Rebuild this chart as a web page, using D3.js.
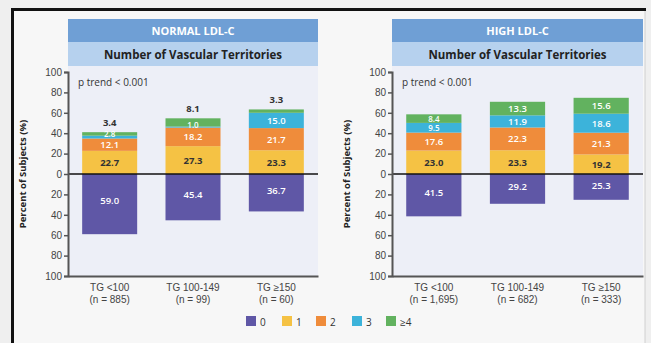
<!DOCTYPE html>
<html>
<head>
<meta charset="utf-8">
<script src="https://cdn.jsdelivr.net/npm/d3@7"></script>
<style>
  body { margin: 0; background: #efefef; }
  svg { display: block; font-family: "Open Sans", sans-serif; }
</style>
</head>
<body>
<div id="container"></div>
<script>
/* DATA */
const groups = ["0", "1", "2", "3", "≥4"]
const categories = ["TG <100", "TG 100-149", "TG ≥150"]
const normalN = ["(n = 885)", "(n = 99)", "(n = 60)"]
const highN = ["(n = 1,695)", "(n = 682)", "(n = 333)"]
// percent of subjects per group, one row per category
const normalValues = [
  [59.0, 22.7, 12.1, 2.8, 3.4],
  [45.4, 27.3, 18.2, 1.0, 8.1],
  [36.7, 23.3, 21.7, 15.0, 3.3]
]
const highValues = [
  [41.5, 23.0, 17.6, 9.5, 8.4],
  [29.2, 23.3, 22.3, 11.9, 13.3],
  [25.3, 19.2, 21.3, 18.6, 15.6]
]
const yTicks = [-100, -80, -60, -40, -20, 0, 20, 40, 60, 80, 100]

/* CONSTANTS */
const width = 651
const height = 343
const colors = ["#5f57a6", "#f5c244", "#ef8c3b", "#3cb3da", "#62b25f"]
const labelColors = ["#fff", "#333", "#fff", "#fff", "#fff"]

const svg = d3.select("#container")
  .append("svg")
  .attr("width", width)
  .attr("height", height)

// frame
svg.append("rect").attr("x", 12).attr("y", 9).attr("width", 633).attr("height", 336)
  .attr("fill", "#f7f7f7").attr("stroke", "#d0d0d0")
svg.append("line").attr("x1", 11).attr("x2", 646).attr("y1", 9.5).attr("y2", 9.5)
  .attr("stroke", "#111").attr("stroke-width", 3)
svg.append("line").attr("x1", 12.5).attr("x2", 12.5).attr("y1", 9).attr("y2", 343)
  .attr("stroke", "#111").attr("stroke-width", 3)

const yScale = d3.scaleLinear().domain([-100, 100]).range([276, 72])

function drawPanel(x0, w, title, values, nLabels, labelAbove) {
  const g = svg.append("g").attr("transform", `translate(${x0},0)`)

  // headers
  g.append("rect").attr("x", 0).attr("y", 19).attr("width", w).attr("height", 23).attr("fill", "#6f9fd5")
  g.append("rect").attr("x", 0).attr("y", 42).attr("width", w).attr("height", 24).attr("fill", "#b6d1ee")
  g.append("text").attr("x", w / 2).attr("y", 35).attr("text-anchor", "middle")
    .attr("fill", "#fff").attr("font-size", 11).attr("font-weight", 700).text(title)
  g.append("text").attr("x", w / 2).attr("y", 58.5).attr("text-anchor", "middle")
    .attr("fill", "#222").attr("font-size", 11.5).attr("font-weight", 700).text("Number of Vascular Territories")

  // plot background
  g.append("rect").attr("x", 0).attr("y", 66).attr("width", w).attr("height", yScale(-100) - 66).attr("fill", "#edeff7")

  const xScale = d3.scaleBand().domain(categories).range([0, w]).paddingInner(0.34).paddingOuter(0.17)

  // stacked bars: group 0 goes down, others go up
  values.forEach((row, i) => {
    let base = 0
    const segs = row.map((v, k) => {
      let s
      if (k === 0) s = { k, v, lo: -v, hi: 0 }
      else { s = { k, v, lo: base, hi: base + v }; base += v }
      return s
    })
    const bar = g.append("g")
    bar.selectAll("rect")
      .data(segs)
      .join("rect")
      .attr("x", xScale(categories[i]))
      .attr("width", xScale.bandwidth())
      .attr("y", d => yScale(d.hi))
      .attr("height", d => yScale(d.lo) - yScale(d.hi))
      .attr("fill", d => colors[d.k])

    const above = d => d.k === 4 && labelAbove
    bar.selectAll("text")
      .data(segs)
      .join("text")
      .attr("x", xScale(categories[i]) + xScale.bandwidth() / 2)
      .attr("y", d => {
        if (d.k === 0) return yScale(d.lo * 0.45) + 3
        if (above(d)) return yScale(d.hi) - 6
        if (d.v < 4) return yScale(d.hi) + 1.5
        return yScale((d.lo + d.hi) / 2) + 3.5
      })
      .attr("text-anchor", "middle")
      .attr("font-size", d => d.v < 10 && !above(d) ? 8 : 9.5)
      .attr("font-weight", d => d.k === 1 || above(d) ? 700 : 600)
      .attr("fill", d => above(d) ? "#333" : labelColors[d.k])
      .text(d => d3.format(".1f")(d.v))
  })

  // zero line
  g.append("line").attr("x1", 0).attr("x2", w).attr("y1", yScale(0)).attr("y2", yScale(0))
    .attr("stroke", "#111").attr("stroke-width", 1.5)

  // y axis
  const yAxis = g.append("g")
    .call(d3.axisLeft(yScale).tickValues(yTicks).tickSize(4).tickFormat(d => Math.abs(d)))
  yAxis.select(".domain").attr("stroke", "#555").attr("stroke-width", 2)
  yAxis.selectAll(".tick line").attr("stroke", "#555").attr("stroke-width", 1.5)
  yAxis.selectAll(".tick text").attr("fill", "#444").attr("font-size", 10).attr("x", -6)

  // bottom axis
  const xAxis = g.append("g").attr("transform", `translate(0,${yScale(-100)})`)
    .call(d3.axisBottom(xScale).tickSize(0).tickPadding(8))
  xAxis.select(".domain").attr("stroke", "#555").attr("stroke-width", 2)
  xAxis.selectAll(".tick text").attr("fill", "#444").attr("font-size", 10)
    .attr("dy", "0").attr("y", 15)
  xAxis.selectAll(".tick").append("text")
    .attr("fill", "#444").attr("font-size", 10).attr("y", 27)
    .attr("text-anchor", "middle")
    .text((d, i) => nLabels[i])

  g.append("text").attr("x", 10).attr("y", 86).attr("fill", "#333").attr("font-size", 10).text("p trend < 0.001")

  // y label
  g.append("text")
    .attr("transform", `translate(-42,${yScale(0)}) rotate(-90)`)
    .attr("text-anchor", "middle").attr("fill", "#222")
    .attr("font-size", 9.5).attr("font-weight", 700)
    .text("Percent of Subjects (%)")
}

drawPanel(68, 250, "NORMAL LDL-C", normalValues, normalN, true)
drawPanel(392, 251, "HIGH LDL-C", highValues, highN, false)

// legend
const legendX = [246, 282, 316, 352, 386]
const legend = svg.append("g").selectAll("g")
  .data(groups)
  .join("g")
  .attr("transform", (d, i) => `translate(${legendX[i]},316)`)
legend.append("rect").attr("width", 10).attr("height", 10).attr("fill", (d, i) => colors[i])
legend.append("text").attr("x", 14).attr("y", 9.5).attr("font-size", 10).attr("fill", "#333").text(d => d)
</script>
</body>
</html>
